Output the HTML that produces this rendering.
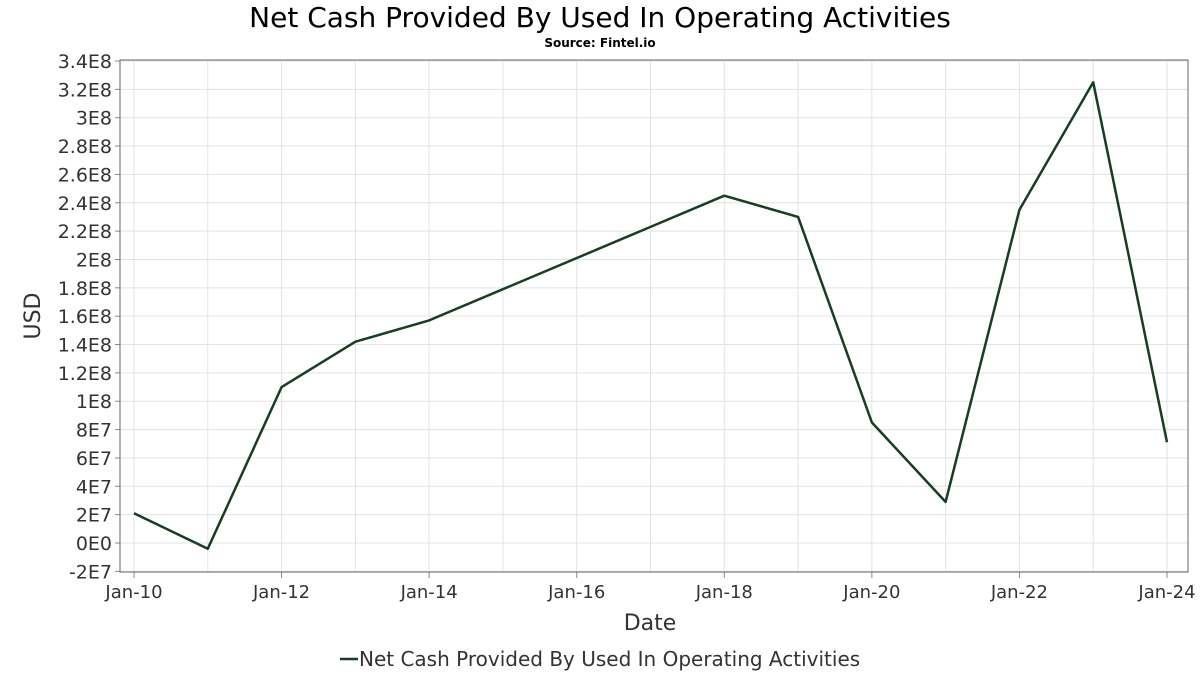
<!DOCTYPE html>
<html><head><meta charset="utf-8"><style>
html,body{margin:0;padding:0;background:#fff;}
svg{display:block;font-family:"DejaVu Sans","Liberation Sans",sans-serif;}
</style></head><body>
<svg id="chart" width="1200" height="675" viewBox="0 0 1200 675">
<text x="600" y="27" text-anchor="middle" font-size="28" fill="#000">Net Cash Provided By Used In Operating Activities</text>
<text x="600" y="47" text-anchor="middle" font-size="12" font-weight="bold" fill="#000">Source: Fintel.io</text>
<g id="grid"></g>
<g id="yaxis"></g>
<g id="xaxis"></g>
<rect x="120" y="60" width="1068" height="512" fill="none" stroke="#666" stroke-width="1"/>
<path id="series" fill="none" stroke="#183d22" stroke-width="2.5" stroke-linejoin="round"/>
<text x="40" y="316" text-anchor="middle" font-size="22" fill="#333" transform="rotate(-90 40 316)">USD</text>
<text x="650" y="630" text-anchor="middle" font-size="22" fill="#333">Date</text>
<g>
<line x1="340" y1="659" x2="358" y2="659" stroke="#183d22" stroke-width="2.5"/>
<text x="359" y="666" font-size="20" fill="#333">Net Cash Provided By Used In Operating Activities</text>
</g>
</svg>
<script>
const years = [2010,2011,2012,2013,2014,2018,2019,2020,2021,2022,2023,2024];
const values = [2.1e7,-4e6,1.1e8,1.42e8,1.57e8,2.45e8,2.3e8,8.5e7,2.9e7,2.35e8,3.25e8,7.1e7];
const yTicks = [-2e7,0,2e7,4e7,6e7,8e7,1e8,1.2e8,1.4e8,1.6e8,1.8e8,2e8,2.2e8,2.4e8,2.6e8,2.8e8,3e8,3.2e8,3.4e8];
const yTickLabels = ["-2E7","0E0","2E7","4E7","6E7","8E7","1E8","1.2E8","1.4E8","1.6E8","1.8E8","2E8","2.2E8","2.4E8","2.6E8","2.8E8","3E8","3.2E8","3.4E8"];
const xTicks = [2010,2012,2014,2016,2018,2020,2022,2024];
const xTickLabels = ["Jan-10","Jan-12","Jan-14","Jan-16","Jan-18","Jan-20","Jan-22","Jan-24"];

const NS="http://www.w3.org/2000/svg";
const xS = v => 134 + (v-2010)*(1167-134)/14;
const yS = v => 543 - v*(543-61)/3.4e8;
function mk(tag, attrs, parent){const e=document.createElementNS(NS,tag);for(const k in attrs)e.setAttribute(k,attrs[k]);parent.appendChild(e);return e;}
const grid=document.getElementById('grid'), ya=document.getElementById('yaxis'), xa=document.getElementById('xaxis');
for(let y=2010;y<=2024;y++){
  const l=mk('line',{x1:xS(y),x2:xS(y),y1:60,y2:572,stroke:'#e3e3e3','stroke-width':1},grid);
  
  
}
yTicks.forEach((t,i)=>{
  const g=mk('line',{x1:120,x2:1188,y1:yS(t),y2:yS(t),stroke:'#e3e3e3','stroke-width':1},grid);
  
  
  const tk=mk('line',{x1:115,x2:120,y1:yS(t),y2:yS(t),stroke:'#888'},ya);
  
  
  const tx=mk('text',{x:112,y:yS(t)+7,'text-anchor':'end','font-size':19,fill:'#333'},ya);
  tx.textContent=yTickLabels[i];
  
  
});
xTicks.forEach((t,i)=>{
  const tk=mk('line',{x1:xS(t),x2:xS(t),y1:572,y2:578,stroke:'#888'},xa);
  
  
  const tx=mk('text',{x:xS(t),y:598,'text-anchor':'middle','font-size':18,fill:'#333'},xa);
  tx.textContent=xTickLabels[i];
  
  
});
document.getElementById('series').setAttribute('d', years.map((y,i)=>(i?'L':'M')+xS(y).toFixed(1)+' '+yS(values[i]).toFixed(1)).join(' '));
</script>
</body></html>
